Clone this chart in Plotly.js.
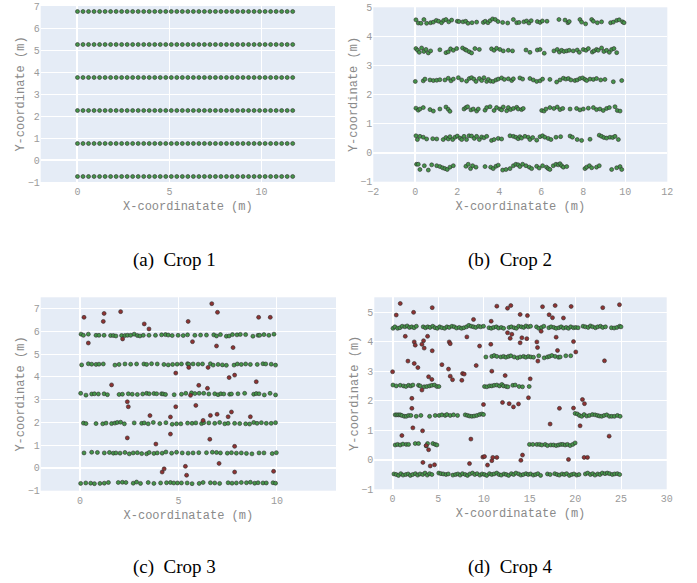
<!DOCTYPE html>
<html><head><meta charset="utf-8">
<script src="https://cdn.plot.ly/plotly-3.0.1.min.js"></script>
<style>html,body{margin:0;padding:0;background:#fff}#c{width:697px;height:583px}</style>
</head><body><div id="c"></div>
<script>
// ---------- Crop 1 : regular grid ----------
const c1_x = [0.0,0.3,0.6,0.9,1.2,1.5,1.8,2.1,2.4,2.7,
  3.0,3.3,3.6,3.9,4.2,4.5,4.8,5.1,5.4,5.7,
  6.0,6.3,6.6,6.9,7.2,7.5,7.8,8.1,8.4,8.7,
  9.0,9.3,9.6,9.9,10.2,10.5,10.8,11.1,11.4,11.7];
const c1_rows = [-0.75,0.75,2.25,3.75,5.25,6.75];

// ---------- Crop 2 ----------
const c2_r45_x = [0.03,0.14,0.27,0.41,0.54,0.73,0.86,1.00,1.11,1.25,
  1.35,1.46,1.59,1.73,2.00,2.08,2.27,2.40,2.51,2.70,
  2.92,3.24,3.33,3.46,3.56,3.68,3.81,3.94,4.16,4.40,
  4.67,4.83,4.94,5.17,5.30,5.41,5.52,5.81,5.94,6.05,
  6.27,6.84,7.13,7.27,7.33,7.84,7.92,8.11,8.40,8.48,
  8.67,8.87,9.30,9.43,9.59,9.71,9.87,9.94];
const c2_r45_y = [4.57,4.46,4.45,4.58,4.45,4.47,4.49,4.55,4.52,4.47,
  4.55,4.58,4.50,4.56,4.52,4.51,4.50,4.52,4.45,4.47,
  4.49,4.48,4.52,4.47,4.54,4.60,4.58,4.51,4.48,4.46,
  4.58,4.47,4.48,4.50,4.53,4.46,4.54,4.51,4.48,4.53,
  4.52,4.58,4.56,4.47,4.51,4.58,4.49,4.43,4.58,4.52,
  4.47,4.50,4.47,4.49,4.55,4.57,4.50,4.47];
const c2_r35_x = [0.03,0.11,0.19,0.30,0.41,0.51,0.62,0.73,1.17,1.46,
  1.57,1.68,1.81,1.97,2.25,2.37,2.44,2.57,2.68,2.84,
  3.05,3.63,3.75,3.87,4.03,4.19,4.43,4.63,5.27,5.46,
  5.81,5.94,6.14,6.60,6.76,6.86,6.97,7.08,7.21,7.33,
  7.52,7.71,7.81,8.00,8.13,8.24,8.43,8.51,8.63,8.71,
  8.87,8.98,9.11,9.24,9.35,9.46,9.59];
const c2_r35_y = [3.58,3.52,3.45,3.60,3.48,3.55,3.43,3.50,3.54,3.44,
  3.47,3.57,3.52,3.58,3.60,3.55,3.52,3.47,3.43,3.58,
  3.55,3.57,3.52,3.59,3.55,3.50,3.52,3.50,3.53,3.45,
  3.53,3.55,3.42,3.50,3.55,3.46,3.52,3.48,3.50,3.52,
  3.50,3.53,3.45,3.55,3.52,3.58,3.46,3.50,3.55,3.52,
  3.60,3.48,3.52,3.45,3.55,3.58,3.44];
const c2_r25_x = [0.00,0.38,0.46,0.70,0.86,1.02,1.17,1.41,1.57,1.70,
  1.81,2.05,2.21,2.44,2.57,2.68,2.79,2.89,3.05,3.16,
  3.27,3.40,3.48,3.59,3.71,3.84,3.95,4.11,4.24,4.43,
  4.59,4.67,4.98,5.11,5.46,5.62,5.78,5.94,6.06,6.41,
  6.73,6.89,7.05,7.17,7.29,7.41,7.60,7.71,7.84,7.97,
  8.08,8.16,8.32,8.48,8.63,8.83,9.03,9.43,9.83];
const c2_r25_y = [2.45,2.47,2.53,2.50,2.48,2.49,2.51,2.50,2.56,2.47,
  2.53,2.58,2.50,2.46,2.55,2.58,2.53,2.45,2.55,2.48,
  2.58,2.45,2.52,2.46,2.45,2.50,2.53,2.57,2.52,2.54,
  2.48,2.54,2.57,2.53,2.55,2.50,2.45,2.47,2.53,2.52,
  2.43,2.50,2.56,2.53,2.55,2.50,2.48,2.50,2.55,2.57,
  2.52,2.48,2.53,2.52,2.55,2.50,2.52,2.44,2.48];
const c2_r15_x = [0.03,0.14,0.22,0.38,0.70,0.86,1.17,1.46,1.57,1.65,
  2.32,2.41,2.49,2.65,2.76,2.92,3.00,3.32,3.40,3.56,
  3.75,3.87,4.03,4.11,4.19,4.35,4.43,4.54,4.67,4.83,
  4.90,5.06,5.14,6.02,6.13,6.22,6.41,6.60,6.76,6.89,
  7.02,7.37,7.68,7.84,8.00,8.24,8.48,8.63,8.79,8.95,
  9.11,9.24,9.51,9.62,9.75];
const c2_r15_y = [1.53,1.46,1.50,1.55,1.48,1.43,1.50,1.57,1.49,1.42,
  1.50,1.55,1.58,1.47,1.50,1.43,1.50,1.46,1.55,1.58,
  1.45,1.55,1.50,1.47,1.57,1.44,1.55,1.48,1.52,1.56,
  1.50,1.48,1.52,1.45,1.43,1.50,1.55,1.52,1.57,1.48,
  1.52,1.50,1.52,1.47,1.50,1.53,1.55,1.48,1.50,1.45,
  1.52,1.55,1.58,1.45,1.43];
const c2_r05_x = [0.03,0.10,0.22,0.38,0.54,0.83,1.02,1.33,1.46,1.57,
  1.65,1.78,1.89,2.00,2.13,2.21,2.32,2.44,2.56,2.68,
  2.81,2.92,3.05,3.16,3.27,3.40,3.63,3.75,3.95,4.11,
  4.51,4.67,4.79,4.90,4.98,5.06,5.22,5.38,5.46,5.59,
  5.78,5.94,6.06,6.17,6.33,6.46,6.70,6.92,7.37,7.48,
  7.71,7.92,8.32,8.76,8.87,8.98,9.11,9.27,9.40,9.51,
  9.67];
const c2_r05_y = [0.58,0.45,0.56,0.53,0.47,0.48,0.47,0.45,0.52,0.47,
  0.55,0.45,0.53,0.57,0.50,0.45,0.56,0.45,0.58,0.57,
  0.49,0.56,0.45,0.54,0.51,0.56,0.42,0.45,0.49,0.47,
  0.58,0.56,0.53,0.48,0.55,0.50,0.56,0.53,0.45,0.52,
  0.43,0.55,0.58,0.53,0.49,0.45,0.53,0.55,0.57,0.53,
  0.45,0.42,0.46,0.60,0.56,0.52,0.50,0.53,0.52,0.56,
  0.45];
const c2_rm05_x = [0.06,0.14,0.22,0.43,0.62,0.78,1.02,1.17,1.30,1.41,
  1.52,1.65,1.81,2.41,2.52,2.63,2.73,2.89,3.32,3.59,
  3.71,3.84,3.95,4.16,4.32,4.51,4.67,4.79,4.90,4.98,
  5.11,5.27,5.43,5.54,5.78,5.90,6.06,6.25,6.33,6.41,
  6.57,6.70,6.81,6.89,6.97,7.05,7.21,8.08,8.16,8.29,
  8.40,8.63,8.76,9.35,9.59,9.75,9.83];
const c2_rm05_y = [-0.40,-0.40,-0.58,-0.45,-0.60,-0.42,-0.45,-0.48,-0.52,-0.55,
  -0.58,-0.50,-0.45,-0.47,-0.40,-0.55,-0.45,-0.50,-0.48,-0.50,
  -0.55,-0.47,-0.43,-0.60,-0.58,-0.55,-0.45,-0.40,-0.42,-0.48,
  -0.40,-0.45,-0.50,-0.55,-0.47,-0.53,-0.45,-0.50,-0.55,-0.58,
  -0.45,-0.40,-0.42,-0.38,-0.45,-0.50,-0.48,-0.55,-0.50,-0.45,
  -0.52,-0.50,-0.45,-0.58,-0.52,-0.48,-0.58];

// ---------- Crop 3 ----------
const c3_r585_x = [0.05,0.17,0.42,0.81,0.96,1.22,1.55,1.69,1.82,2.11,
  2.28,2.41,2.57,2.75,2.91,3.04,3.21,3.50,3.83,4.14,
  4.34,4.48,4.68,4.98,5.24,5.46,5.83,6.12,6.42,6.79,
  6.93,7.13,7.43,7.57,7.74,7.97,8.14,8.41,8.78,9.04,
  9.12,9.34,9.59,9.85];
const c3_r585_y = [5.88,5.83,5.88,5.83,5.83,5.83,5.82,5.82,5.80,5.82,
  5.82,5.83,5.83,5.88,5.82,5.80,5.83,5.83,5.83,5.85,
  5.86,5.84,5.82,5.83,5.82,5.85,5.83,5.84,5.84,5.85,
  5.80,5.86,5.79,5.80,5.86,5.85,5.87,5.86,5.79,5.83,
  5.83,5.86,5.83,5.88];
const c3_r455_x = [0.08,0.42,0.59,0.81,0.96,1.18,1.77,1.98,2.28,2.57,
  2.87,3.24,3.38,3.63,3.92,4.26,4.48,4.70,4.93,5.15,
  5.46,5.52,5.74,6.00,6.22,6.62,6.76,7.01,7.23,7.43,
  7.82,7.99,8.19,8.41,8.65,9.00,9.29,9.43,9.71,9.93];
const c3_r455_y = [4.53,4.58,4.56,4.55,4.56,4.57,4.52,4.55,4.57,4.56,
  4.57,4.57,4.55,4.58,4.57,4.55,4.53,4.55,4.56,4.57,
  4.58,4.56,4.57,4.56,4.57,4.58,4.52,4.55,4.53,4.51,
  4.52,4.57,4.55,4.57,4.55,4.55,4.58,4.57,4.56,4.52];
const c3_r325_x = [0.03,0.30,0.59,0.73,0.93,1.22,1.39,1.98,2.15,2.45,
  2.65,2.91,3.18,3.38,3.51,3.75,3.89,4.14,4.22,4.34,
  4.78,5.15,5.37,5.66,5.83,6.05,6.28,6.54,6.84,7.01,
  7.15,7.30,7.60,7.69,8.02,8.36,8.82,8.95,9.09,9.36,
  9.65,9.93];
const c3_r325_y = [3.28,3.20,3.25,3.26,3.25,3.26,3.22,3.23,3.24,3.26,
  3.24,3.23,3.25,3.28,3.26,3.27,3.26,3.26,3.25,3.23,
  3.22,3.24,3.28,3.30,3.27,3.28,3.28,3.25,3.26,3.22,
  3.26,3.25,3.24,3.25,3.26,3.28,3.24,3.27,3.26,3.21,
  3.28,3.21];
const c3_r195_x = [0.17,0.30,0.81,1.15,1.32,1.60,1.77,1.89,2.06,2.25,
  2.75,3.13,3.26,3.46,3.72,4.05,4.36,4.68,4.90,5.12,
  5.46,5.69,5.88,6.17,6.28,6.54,6.84,7.09,7.35,7.52,
  7.85,8.11,8.41,8.61,8.82,8.99,9.21,9.46,9.71,9.93];
const c3_r195_y = [1.97,1.95,1.95,1.94,1.97,1.95,1.97,2.00,2.01,1.94,
  1.98,1.96,1.98,1.94,2.00,1.95,1.99,1.92,1.94,1.94,
  1.97,1.96,1.98,1.95,1.99,1.98,1.96,2.00,1.94,1.96,
  1.96,1.95,1.94,1.93,2.00,1.96,1.99,1.96,1.96,1.99];
const c3_r065_x = [0.20,0.59,0.88,1.23,1.49,1.69,1.82,2.03,2.28,2.50,
  2.70,2.91,3.13,3.38,3.51,3.75,3.92,4.17,4.36,4.65,
  4.90,5.19,5.49,5.74,6.03,6.42,6.72,6.93,7.13,7.48,
  7.69,7.94,8.19,8.45,8.73,9.09,9.34,9.76,9.97];
const c3_r065_y = [0.66,0.69,0.68,0.66,0.68,0.65,0.66,0.65,0.68,0.62,
  0.66,0.67,0.63,0.62,0.68,0.64,0.66,0.65,0.70,0.65,
  0.69,0.66,0.65,0.66,0.67,0.67,0.69,0.68,0.66,0.65,
  0.67,0.65,0.66,0.64,0.62,0.66,0.66,0.63,0.67];
const c3_rm065_x = [0.03,0.29,0.54,0.73,1.01,1.23,1.44,1.94,2.15,2.33,
  2.70,2.87,3.07,3.46,3.75,4.09,4.39,4.59,4.76,4.95,
  5.15,5.44,5.69,6.05,6.25,6.62,6.84,7.09,7.52,7.72,
  7.94,8.19,8.45,8.65,8.87,9.04,9.29,9.46,9.80,9.93];
const c3_rm065_y = [-0.68,-0.66,-0.67,-0.69,-0.68,-0.67,-0.64,-0.64,-0.63,-0.64,
  -0.67,-0.62,-0.68,-0.64,-0.68,-0.66,-0.65,-0.64,-0.66,-0.66,
  -0.66,-0.66,-0.69,-0.68,-0.64,-0.65,-0.66,-0.68,-0.65,-0.67,
  -0.66,-0.64,-0.65,-0.63,-0.67,-0.65,-0.66,-0.66,-0.65,-0.67];
const c3_red_x = [0.20,0.42,1.22,1.18,2.06,2.16,3.26,3.50,1.60,2.40,
  2.45,2.40,3.55,3.85,4.17,4.27,4.86,4.86,4.59,4.59,
  5.49,5.71,5.52,5.61,5.88,6.03,6.25,5.35,5.41,6.69,
  6.98,6.93,6.47,6.50,6.62,6.59,6.96,7.06,7.57,7.85,
  7.77,7.52,7.69,7.85,7.85,8.65,8.95,9.07,9.66,9.83];
const c3_red_y = [6.62,5.49,6.79,6.44,6.87,5.67,6.33,6.11,3.65,2.91,
  2.69,1.32,2.30,1.05,-0.18,-0.04,4.17,2.69,2.24,1.49,
  6.44,5.55,4.42,3.19,2.75,3.63,2.09,0.07,-0.32,7.22,
  6.84,5.36,3.50,4.42,2.31,1.26,2.36,0.20,3.97,4.08,
  5.29,2.25,2.46,0.95,-0.18,2.25,3.79,6.62,6.62,-0.15];

// ---------- Crop 4 ----------
const c4_r45_x = [0.05,0.25,0.55,0.80,1.05,1.35,1.60,1.85,2.10,2.35,2.60,
  3.35,3.60,3.85,4.10,4.40,4.65,4.90,5.15,5.40,5.70,5.95,6.20,6.50,6.75,7.00,7.30,7.55,7.80,8.10,8.35,8.60,8.85,9.10,9.40,9.65,9.95,
  10.55,10.80,11.05,11.35,11.60,11.90,12.15,
  12.75,13.00,13.30,13.55,13.80,14.10,14.35,14.60,14.85,15.10,
  15.75,16.00,16.30,16.55,
  17.10,17.35,17.65,17.90,18.20,18.45,18.70,19.00,19.25,19.50,19.80,20.05,20.30,
  20.85,21.10,21.40,21.65,21.90,22.20,22.45,22.75,23.00,23.30,
  23.95,24.25,24.55,24.85,25.00];
const c4_r45_y = [4.45,4.50,4.45,4.47,4.52,4.50,4.53,4.48,4.50,4.47,4.52,
  4.50,4.47,4.50,4.48,4.52,4.47,4.45,4.50,4.47,4.45,4.50,4.48,4.52,4.50,4.46,4.48,4.45,4.47,4.50,4.55,4.52,4.50,4.48,4.52,4.50,4.52,
  4.47,4.45,4.48,4.50,4.46,4.48,4.45,
  4.48,4.50,4.47,4.45,4.52,4.50,4.48,4.53,4.50,4.52,
  4.50,4.45,4.48,4.52,
  4.47,4.50,4.48,4.45,4.47,4.50,4.46,4.48,4.45,4.50,4.47,4.48,4.47,
  4.52,4.50,4.48,4.53,4.50,4.47,4.50,4.52,4.48,4.50,
  4.47,4.46,4.48,4.52,4.50];
const c4_r35_x = [10.21,10.86,11.12,11.41,11.85,12.14,12.40,12.69,12.94,13.31,
  13.67,13.96,14.33,14.58,14.87,15.13,15.42,16.00,16.59,16.95,
  17.17,17.43,17.79,18.16,18.34,18.96,19.50];
const c4_r35_y = [3.48,3.50,3.53,3.50,3.48,3.50,3.47,3.50,3.52,3.48,
  3.45,3.48,3.50,3.47,3.50,3.48,3.47,3.52,3.45,3.48,
  3.50,3.53,3.50,3.47,3.48,3.52,3.52];
const c4_r25_x = [0.04,0.40,0.84,1.20,1.46,1.75,2.00,2.22,2.84,3.03,
  3.46,3.75,4.05,4.30,4.59,4.85,5.07,10.06,10.32,10.61,
  10.86,11.12,11.41,11.70,11.96,12.14,12.43,12.62,13.16,13.42,
  13.85,14.22,14.95];
const c4_r25_y = [2.53,2.50,2.52,2.50,2.48,2.52,2.50,2.53,2.52,2.50,
  2.47,2.48,2.50,2.52,2.53,2.48,2.48,2.48,2.47,2.50,
  2.50,2.52,2.53,2.50,2.55,2.50,2.48,2.47,2.52,2.53,
  2.48,2.47,2.48];
const c4_r15_x = [0.29,0.47,0.66,0.84,1.02,1.28,1.50,1.75,2.00,2.59,
  3.10,4.05,4.67,5.10,5.40,5.76,5.94,6.31,6.67,7.11,
  7.95,8.20,8.42,8.68,8.93,9.22,9.52,9.77,9.95,
  19.98,20.23,20.45,20.70,20.96,21.25,21.54,21.87,22.16,22.42,
  22.64,22.89,23.15,23.44,23.73,23.99,24.28,24.61,24.90];
const c4_r15_y = [1.52,1.52,1.52,1.52,1.50,1.47,1.47,1.50,1.50,1.47,
  1.50,1.47,1.50,1.50,1.52,1.50,1.53,1.50,1.52,1.50,
  1.52,1.50,1.48,1.47,1.48,1.50,1.53,1.55,1.53,
  1.57,1.55,1.50,1.47,1.53,1.48,1.50,1.53,1.52,1.50,
  1.48,1.47,1.50,1.52,1.47,1.47,1.47,1.50,1.47];
const c4_r05_x = [0.29,0.55,0.84,1.13,1.50,1.75,2.48,2.84,3.68,3.83,4.41,4.67,4.85,
  14.98,15.35,15.79,16.08,16.33,16.70,16.95,17.32,17.61,17.90,
  18.16,18.41,18.63,18.89,19.14,19.43,19.72,19.98];
const c4_r05_y = [0.50,0.52,0.50,0.53,0.52,0.52,0.55,0.55,0.47,0.55,0.55,0.52,0.50,
  0.52,0.52,0.52,0.52,0.50,0.52,0.48,0.50,0.50,0.48,
  0.50,0.52,0.52,0.50,0.52,0.48,0.52,0.57];
const c4_rm05_x = [0.15,0.40,0.65,0.90,1.15,1.45,1.70,1.95,2.20,2.50,2.75,3.00,3.30,3.55,3.80,4.05,4.30,
  5.05,5.30,5.55,5.85,6.10,
  6.60,6.90,7.15,7.40,7.65,7.95,8.20,8.45,8.75,9.00,
  9.25,9.55,9.80,10.05,10.30,10.60,10.85,11.10,11.40,11.65,
  11.90,12.20,12.45,12.70,13.00,13.25,13.50,13.80,14.05,14.30,
  14.60,14.85,15.10,15.40,15.65,15.90,16.20,
  16.95,17.25,
  17.75,18.00,18.25,18.55,18.80,19.05,19.35,19.60,19.85,20.15,20.40,
  21.10,21.35,21.65,21.90,22.15,22.45,22.70,22.95,23.25,23.50,23.75,24.05,24.30,24.60,24.85];
const c4_rm05_y = [-0.48,-0.50,-0.53,-0.47,-0.52,-0.50,-0.48,-0.53,-0.50,-0.47,-0.52,-0.48,-0.50,-0.45,-0.52,-0.47,-0.50,
  -0.45,-0.47,-0.48,-0.50,-0.48,
  -0.52,-0.50,-0.48,-0.52,-0.47,-0.50,-0.53,-0.48,-0.45,-0.50,
  -0.47,-0.52,-0.48,-0.50,-0.53,-0.47,-0.50,-0.48,-0.45,-0.50,
  -0.52,-0.48,-0.50,-0.53,-0.47,-0.50,-0.45,-0.48,-0.52,-0.50,
  -0.47,-0.50,-0.48,-0.52,-0.50,-0.47,-0.53,
  -0.48,-0.50,
  -0.47,-0.50,-0.52,-0.48,-0.50,-0.47,-0.53,-0.50,-0.48,-0.52,-0.50,
  -0.48,-0.45,-0.50,-0.47,-0.52,-0.48,-0.50,-0.45,-0.47,-0.45,-0.47,-0.50,-0.48,-0.47,-0.50];
const c4_red_x = [0.84,0.40,0.00,1.39,1.68,1.02,2.30,2.37,2.48,2.37,
  2.77,2.11,2.11,2.22,3.28,3.39,3.21,3.46,3.83,3.94,
  4.30,3.21,4.34,4.34,3.68,3.94,3.32,4.12,4.59,5.40,
  6.12,6.20,6.31,6.31,6.56,7.58,7.66,7.84,8.13,8.42,
  8.57,8.86,9.15,9.52,9.95,9.88,10.06,10.39,10.79,10.75,
  10.86,10.86,10.97,11.41,11.41,12.03,12.32,12.58,12.58,12.87,
  13.05,12.94,12.76,13.23,13.78,13.96,13.96,14.15,14.04,14.22,
  14.76,14.69,14.87,15.06,15.79,15.86,15.90,16.26,16.41,17.13,
  17.50,17.24,17.79,17.90,18.05,18.26,18.70,19.25,19.54,19.80,
  19.80,20.05,20.52,20.78,21.00,20.96,21.33,23.00,23.19,23.70,
  24.83];
const c4_red_y = [5.29,4.90,2.98,4.18,3.34,0.82,4.99,3.99,3.88,3.26,
  3.12,2.08,1.74,1.08,0.98,4.03,3.91,3.78,4.18,2.81,
  2.72,2.36,5.15,3.69,0.48,0.34,-0.09,-0.21,-0.17,3.22,
  3.07,3.99,3.93,2.83,2.71,2.69,2.92,2.90,4.16,-0.13,
  0.70,4.75,3.19,3.85,1.87,0.09,0.11,-0.18,4.69,3.91,
  3.00,-0.03,0.08,5.20,0.08,1.94,2.85,5.13,4.30,4.11,
  4.25,5.22,1.90,1.79,1.89,4.92,3.96,4.13,-0.02,0.16,
  4.88,4.10,2.10,2.74,3.99,3.80,3.34,4.35,5.18,4.91,
  4.81,1.21,5.22,4.15,3.70,1.74,4.80,0.01,5.19,4.00,
  1.75,3.65,1.15,2.04,1.90,0.08,0.08,5.15,3.35,0.80,
  5.25];

// ---------- assemble ----------
const c1_x_all = [], c1_y_all = [];
c1_rows.forEach(yv => c1_x.forEach(xv => { c1_x_all.push(xv); c1_y_all.push(yv); }));
const cat = arrs => [].concat(...arrs);

const green = {color:'#46944a', size:4, line:{color:'#2e2e2e', width:0.6}};
const red = {color:'#8e3333', size:4, line:{color:'#2e2e2e', width:0.6}};

const traces = [
  {x:c1_x_all, y:c1_y_all, xaxis:'x', yaxis:'y', mode:'markers', type:'scatter', marker:green},
  {x:cat([c2_r45_x,c2_r35_x,c2_r25_x,c2_r15_x,c2_r05_x,c2_rm05_x]),
   y:cat([c2_r45_y,c2_r35_y,c2_r25_y,c2_r15_y,c2_r05_y,c2_rm05_y]),
   xaxis:'x2', yaxis:'y2', mode:'markers', type:'scatter', marker:green},
  {x:cat([c3_r585_x,c3_r455_x,c3_r325_x,c3_r195_x,c3_r065_x,c3_rm065_x]),
   y:cat([c3_r585_y,c3_r455_y,c3_r325_y,c3_r195_y,c3_r065_y,c3_rm065_y]),
   xaxis:'x3', yaxis:'y3', mode:'markers', type:'scatter', marker:green},
  {x:c3_red_x, y:c3_red_y, xaxis:'x3', yaxis:'y3', mode:'markers', type:'scatter', marker:red},
  {x:cat([c4_r45_x,c4_r35_x,c4_r25_x,c4_r15_x,c4_r05_x,c4_rm05_x]),
   y:cat([c4_r45_y,c4_r35_y,c4_r25_y,c4_r15_y,c4_r05_y,c4_rm05_y]),
   xaxis:'x4', yaxis:'y4', mode:'markers', type:'scatter', marker:green},
  {x:c4_red_x, y:c4_red_y, xaxis:'x4', yaxis:'y4', mode:'markers', type:'scatter', marker:red}
];

const tickFont = {family:'Liberation Mono, monospace', size:10, color:'#9a9a9a'};
const titleFont = {family:'Liberation Mono, monospace', size:12, color:'#8a8a8a'};
function ax(domain, range, dtick, anchor, title, standoff, labelOff){
  return {domain, range, dtick, anchor, tickfont:tickFont, showgrid:true, gridcolor:'#ffffff', gridwidth:1,
    zeroline:true, zerolinecolor:'#ffffff', zerolinewidth:2, showline:false, ticks:'',
    ticklabelstandoff:labelOff,
    title:{text:title, font:titleFont, standoff:standoff}, automargin:false, fixedrange:true};
}
const XT = 'X-coordinatate (m)';
const YT = 'Y-coordinate (m)';
const W = 697, H = 583;
const fx = (a,b)=>[a/W, b/W];
const fy = (top,bottom)=>[1-bottom/H, 1-top/H];

const layout = {
  width:W, height:H, margin:{l:0,r:0,t:0,b:0}, showlegend:false,
  paper_bgcolor:'#ffffff', plot_bgcolor:'#E5ECF6',
  xaxis: ax(fx(40.7,335), [-2,14], 5, 'y', XT, 4, 2),
  yaxis: ax(fy(6,182), [-1,7], 1, 'x', YT, 0, 0),
  xaxis2: ax(fx(373.3,667.3), [-2,12], 2, 'y2', XT, 4, 2),
  yaxis2: ax(fy(7.3,181.7), [-1,5], 1, 'x2', YT, 0, 0),
  xaxis3: ax(fx(40.7,336), [-2,13], 5, 'y3', XT, 4, 2),
  yaxis3: ax(fy(297.3,490.7), [-1,7.5], 1, 'x3', YT, 0, 0),
  xaxis4: ax(fx(374.3,666.7), [-2,30], 5, 'y4', XT, 4, 2),
  yaxis4: ax(fy(297.3,489.3), [-1,5.5], 1, 'x4', YT, 0, 0),
  annotations: [
    {text:'(a)  Crop 1', x:174/W, y:1-260/H},
    {text:'(b)  Crop 2', x:510/W, y:1-260/H},
    {text:'(c)  Crop 3', x:174/W, y:1-567/H},
    {text:'(d)  Crop 4', x:510/W, y:1-567/H}
  ].map(a=>Object.assign(a,{xref:'paper', yref:'paper', showarrow:false, xanchor:'center', yanchor:'middle',
     font:{family:'Liberation Serif, Times New Roman, serif', size:19, color:'#000000'}}))
};
Plotly.newPlot('c', traces, layout, {staticPlot:true, displayModeBar:false});
</script></body></html>
